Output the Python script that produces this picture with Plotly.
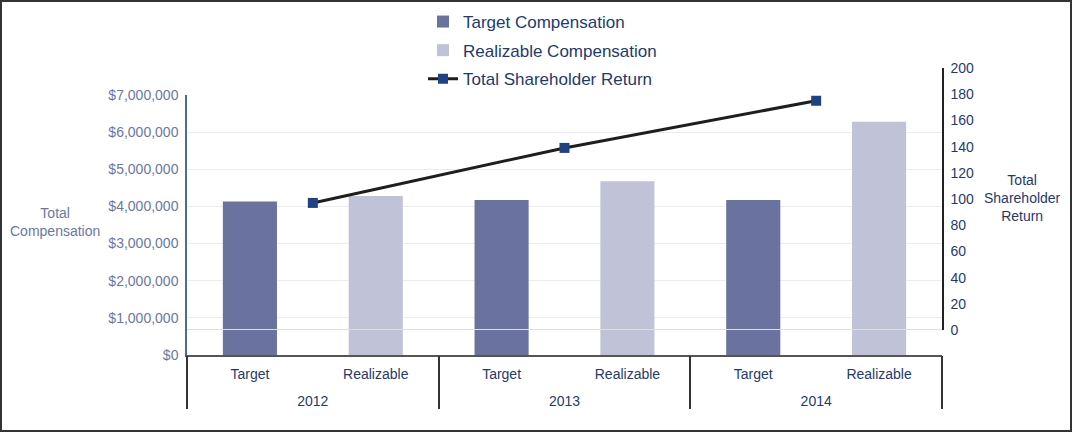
import plotly.graph_objects as go

years = ["2012", "2013", "2014"]
sub_labels = ["Target", "Realizable"]
target_comp = [4130000, 4170000, 4170000]
realizable_comp = [4280000, 4680000, 6280000]
tsr = [97, 139, 175]
left_ticks = [0, 1000000, 2000000, 3000000, 4000000, 5000000, 6000000, 7000000]

# category keys: one slot per (year, sub-label)
cat_keys = [f"{yr} {s}" for yr in years for s in sub_labels]
cat_text = [s for yr in years for s in sub_labels]
x_target = [f"{yr} Target" for yr in years]
x_real = [f"{yr} Realizable" for yr in years]

NAVY = "#1f3a6e"
SLATE = "#6b77a3"

fig = go.Figure()
fig.add_trace(go.Bar(x=x_target, y=target_comp, name="Target Compensation",
                     marker=dict(color="#6a72a0", line=dict(width=0)),
                     legendgroup="a", xaxis="x", yaxis="y"))
fig.add_trace(go.Bar(x=x_real, y=realizable_comp, name="Realizable Compensation",
                     marker=dict(color="#c0c3d8", line=dict(width=0)),
                     legendgroup="b", xaxis="x", yaxis="y"))
fig.add_trace(go.Scatter(x=years, y=tsr, name="Total Shareholder Return",
                         mode="lines+markers",
                         line=dict(color="#1e1e1e", width=3),
                         marker=dict(symbol="square", size=10, color="#1f4282"),
                         legendgroup="c", xaxis="x2", yaxis="y2"))

L, R, T, B = 187, 130, 68, 78
W, H = 1072, 433
pw, ph = W - L - R, H - T - B

def px_x(p):
    return (p - L) / pw

def px_y(p):
    return (H - B - p) / ph

fig.update_layout(
    width=W, height=H, autosize=False,
    margin=dict(l=L, r=R, t=T, b=B, pad=0, autoexpand=False),
    paper_bgcolor="white", plot_bgcolor="rgba(0,0,0,0)",
    font=dict(family="Liberation Sans, Arial, sans-serif", size=14, color=NAVY),
    barmode="overlay", bargap=0.57,
    showlegend=True,
    legend=dict(x=px_x(423), y=px_y(4), xanchor="left", yanchor="top",
                orientation="v", traceorder="grouped", tracegroupgap=3.5,
                font=dict(size=17, color=NAVY), bgcolor="rgba(0,0,0,0)"),
    xaxis=dict(type="category", domain=[0, 1], anchor="y",
               categoryorder="array", categoryarray=cat_keys,
               range=[-0.5, len(cat_keys) - 0.5],
               tickvals=cat_keys, ticktext=cat_text,
               showline=True, linecolor="#555555", linewidth=2,
               showgrid=False, ticks="", ticklabelstandoff=5,
               tickfont=dict(size=14, color=NAVY)),
    yaxis=dict(domain=[0, px_y(95)], range=[0, 7000000], tickvals=left_ticks,
               tickformat="$,.0f", tickfont=dict(size=14, color=SLATE),
               showline=True, linecolor="#4a6aa5", linewidth=1.5,
               gridcolor="#ececec", gridwidth=1, zeroline=False,
               ticks="", ticklabelstandoff=4),
    xaxis2=dict(type="category", domain=[0, 1], anchor="free", position=0,
                categoryorder="array", categoryarray=years,
                range=[-0.5, len(years) - 0.5],
                showline=False, showgrid=False, zeroline=False,
                ticks="outside", tickson="boundaries", ticklen=53,
                tickwidth=1.5, tickcolor="#333333", ticklabelstandoff=36,
                tickfont=dict(size=14, color=NAVY)),
    yaxis2=dict(domain=[px_y(330), 1], anchor="x2", side="right",
                range=[0, 200], dtick=20, showgrid=False, zeroline=False,
                showline=True, linecolor="#222222", linewidth=1.5,
                ticks="", ticklabelstandoff=4,
                tickfont=dict(size=14, color=NAVY)),
    shapes=[
        dict(type="line", xref="paper", yref="y2", x0=0, x1=1, y0=0, y1=0,
             line=dict(color="#dedede", width=2), layer="above"),
        dict(type="rect", xref="paper", yref="paper",
             x0=px_x(1), x1=px_x(1071), y0=px_y(431), y1=px_y(1),
             line=dict(color="#333333", width=2), fillcolor="rgba(0,0,0,0)"),
    ],
    annotations=[
        dict(text="Total<br>Compensation", xref="paper", yref="paper",
             x=px_x(55), y=px_y(222), xanchor="center", yanchor="middle",
             showarrow=False, font=dict(size=14, color=SLATE), align="center"),
        dict(text="Total<br>Shareholder<br>Return", xref="paper", yref="paper",
             x=px_x(1022), y=px_y(198), xanchor="center", yanchor="middle",
             showarrow=False, font=dict(size=14, color=NAVY), align="center"),
    ],
)

fig.write_html("out.html", config={"displayModeBar": False},
               post_script="document.body.style.margin='0';document.body.style.overflow='hidden';")
